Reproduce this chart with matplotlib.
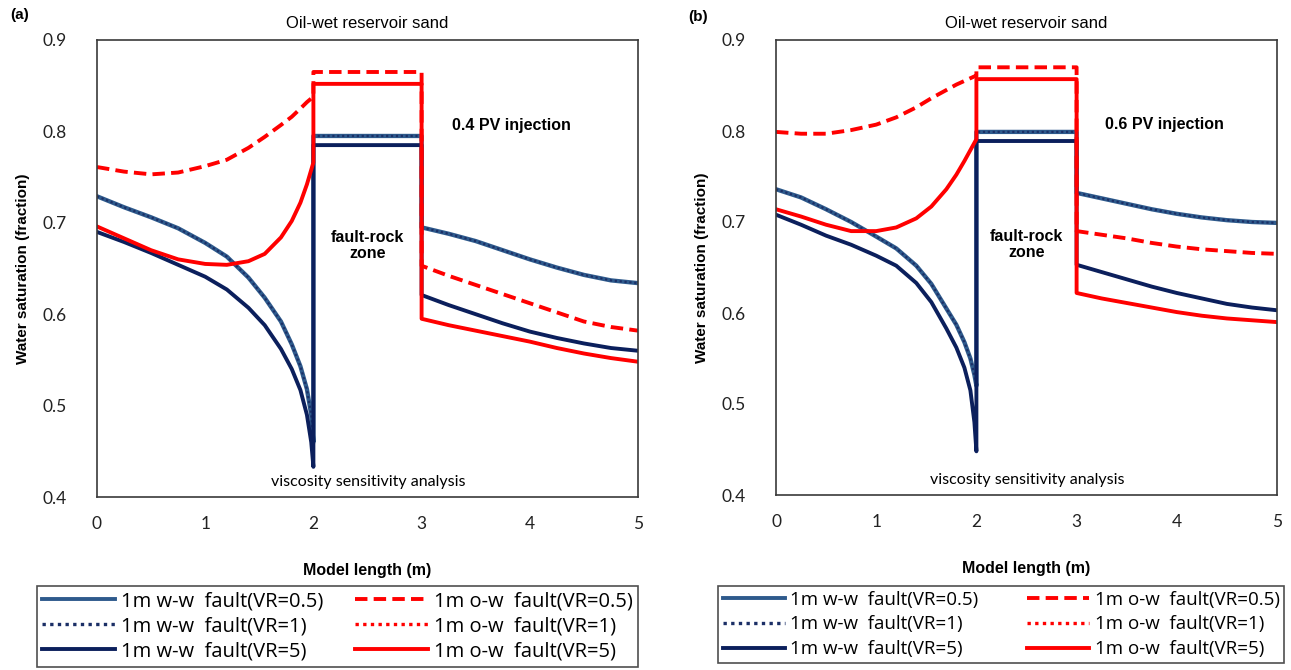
import matplotlib.pyplot as plt
import matplotlib.lines as mlines

# model length positions (m)
x_left = [0, 0.25, 0.5, 0.75, 1.0, 1.2, 1.4, 1.55, 1.7, 1.8, 1.88, 1.94, 1.98, 2.0]
x_fault = [2, 3]
x_right = [3, 3.25, 3.5, 3.75, 4, 4.25, 4.5, 4.75, 5]

# ---- panel (a) 0.4 PV injection ----
a_ww05_left = [0.729, 0.717, 0.706, 0.694, 0.678, 0.663, 0.640, 0.618, 0.592, 0.567, 0.543, 0.518, 0.490, 0.460]
a_ww5_left = [0.690, 0.679, 0.667, 0.654, 0.641, 0.627, 0.607, 0.588, 0.562, 0.540, 0.517, 0.490, 0.460, 0.433]
a_ow05_left = [0.761, 0.756, 0.753, 0.755, 0.762, 0.769, 0.782, 0.794, 0.807, 0.816, 0.825, 0.832, 0.836, 0.838]
a_ow5_left = [0.696, 0.683, 0.670, 0.660, 0.655, 0.654, 0.658, 0.666, 0.684, 0.702, 0.722, 0.742, 0.758, 0.766]
a_ww05_fault, a_ww5_fault, a_ow05_fault, a_ow5_fault = 0.795, 0.785, 0.865, 0.852
a_ww05_right = [0.695, 0.688, 0.680, 0.670, 0.660, 0.651, 0.643, 0.637, 0.634]
a_ww5_right = [0.621, 0.610, 0.600, 0.590, 0.581, 0.574, 0.568, 0.563, 0.560]
a_ow05_right = [0.653, 0.642, 0.632, 0.622, 0.612, 0.602, 0.592, 0.586, 0.582]
a_ow5_right = [0.595, 0.588, 0.582, 0.576, 0.570, 0.563, 0.557, 0.552, 0.548]

# ---- panel (b) 0.6 PV injection ----
b_ww05_left = [0.736, 0.727, 0.714, 0.700, 0.684, 0.671, 0.652, 0.632, 0.605, 0.587, 0.568, 0.550, 0.532, 0.520]
b_ww5_left = [0.708, 0.697, 0.685, 0.675, 0.663, 0.652, 0.633, 0.612, 0.583, 0.562, 0.540, 0.515, 0.480, 0.448]
b_ow05_left = [0.799, 0.797, 0.797, 0.801, 0.807, 0.815, 0.826, 0.836, 0.845, 0.851, 0.855, 0.858, 0.860, 0.860]
b_ow5_left = [0.714, 0.706, 0.697, 0.690, 0.690, 0.694, 0.704, 0.717, 0.736, 0.752, 0.767, 0.779, 0.787, 0.791]
b_ww05_fault, b_ww5_fault, b_ow05_fault, b_ow5_fault = 0.799, 0.789, 0.870, 0.857
b_ww05_right = [0.732, 0.726, 0.720, 0.714, 0.709, 0.705, 0.702, 0.700, 0.699]
b_ww5_right = [0.653, 0.645, 0.637, 0.629, 0.622, 0.616, 0.610, 0.606, 0.603]
b_ow05_right = [0.690, 0.686, 0.682, 0.677, 0.673, 0.670, 0.668, 0.666, 0.665]
b_ow5_right = [0.622, 0.616, 0.611, 0.606, 0.601, 0.597, 0.594, 0.592, 0.590]

labels = ['1m w-w  fault(VR=0.5)', '1m w-w  fault(VR=1)', '1m w-w  fault(VR=5)',
          '1m o-w  fault(VR=0.5)', '1m o-w  fault(VR=1)', '1m o-w  fault(VR=5)']

C_WW05 = '#2E5A8C'
C_WW = '#1B2F66'
C_WW5 = '#0B1F5C'
C_RED = '#FF0000'
LW = 2.8


def profile(left, fault, right):
    return x_left + x_fault + x_right, left + [fault, fault] + right


def draw(ax, ww05, ww5, ow05, ow5, pv_text):
    kw = dict(solid_joinstyle='round', dash_joinstyle='round')
    x, y = profile(*ww05)
    ax.plot(x, y, color=C_WW05, lw=LW + 0.3, **kw)
    ax.plot(x, y, color=C_WW, lw=1.6, ls=(0, (1, 1.2)))  # VR=1 sits on VR=0.5
    x, y = profile(*ww5)
    ax.plot(x, y, color=C_WW5, lw=LW, **kw)
    x, y = profile(*ow5)
    ax.plot(x, y, color=C_RED, lw=1.6, ls=':')  # VR=1 hidden under VR=5
    ax.plot(x, y, color=C_RED, lw=LW, **kw)
    x, y = profile(*ow05)
    ax.plot(x, y, color=C_RED, lw=LW, dashes=(3.2, 1.6), **kw)

    ax.set_xlim(0, 5)
    ax.set_ylim(0.4, 0.9)
    ax.set_xticks([0, 1, 2, 3, 4, 5])
    ax.set_yticks([0.4, 0.5, 0.6, 0.7, 0.8, 0.9])
    ax.set_yticklabels(['0.4', '0.5', '0.6', '0.7', '0.8', '0.9'])
    ax.tick_params(length=0, labelsize=12.5, colors='#222222')
    ax.tick_params(axis='y', pad=22)
    ax.tick_params(axis='x', pad=14)
    for lab in ax.get_xticklabels() + ax.get_yticklabels():
        lab.set_family('Lato')
    for s in ax.spines.values():
        s.set_color('#3a3a3a')
        s.set_linewidth(1.2)
    ax.set_title('Oil-wet reservoir sand', fontsize=12, family='Liberation Sans', pad=9)
    ax.set_xlabel('Model length (m)', fontsize=11.5, fontweight='bold', family='Liberation Sans', labelpad=22)
    ax.set_ylabel('Water saturation (fraction)', fontsize=11, fontweight='bold', family='Liberation Sans', labelpad=9)
    ax.text(3.28, 0.807, pv_text, fontsize=11.5, fontweight='bold', family='Liberation Sans', va='center')
    ax.text(2.5, 0.675, 'fault-rock\nzone', fontsize=11.5, fontweight='bold', family='Liberation Sans',
            ha='center', va='center', linespacing=1.05)
    ax.text(2.51, 0.416, 'viscosity sensitivity analysis', fontsize=11.5, family='Lato',
            ha='center', va='center')


fig = plt.figure(figsize=(12.91, 6.70), dpi=100)
ax1 = fig.add_axes([97 / 1291, 173 / 670, 541 / 1291, 457 / 670])
ax2 = fig.add_axes([776 / 1291, 175 / 670, 501 / 1291, 455 / 670])

draw(ax1, (a_ww05_left, a_ww05_fault, a_ww05_right), (a_ww5_left, a_ww5_fault, a_ww5_right),
     (a_ow05_left, a_ow05_fault, a_ow05_right), (a_ow5_left, a_ow5_fault, a_ow5_right), '0.4 PV injection')
draw(ax2, (b_ww05_left, b_ww05_fault, b_ww05_right), (b_ww5_left, b_ww5_fault, b_ww5_right),
     (b_ow05_left, b_ow05_fault, b_ow05_right), (b_ow5_left, b_ow5_fault, b_ow5_right), '0.6 PV injection')

fig.text(10 / 1291, 1 - 15 / 670, '(a)', fontsize=11, fontweight='bold', family='Liberation Sans', va='center')
fig.text(688 / 1291, 1 - 17 / 670, '(b)', fontsize=11, fontweight='bold', family='Liberation Sans', va='center')

# legend handles
handles = [
    mlines.Line2D([], [], color=C_WW05, lw=LW),
    mlines.Line2D([], [], color=C_WW, lw=2.4, ls=(0, (1, 1.3))),
    mlines.Line2D([], [], color=C_WW5, lw=LW),
    mlines.Line2D([], [], color=C_RED, lw=LW, dashes=(3.2, 1.6)),
    mlines.Line2D([], [], color=C_RED, lw=2.4, ls=(0, (1, 1.3))),
    mlines.Line2D([], [], color=C_RED, lw=LW),
]
for x0, ytop, fs, hl, ls, cs in [(37, 586, 14.5, 3.6, 0.26, 1.6), (718, 586, 13.5, 3.3, 0.36, 2.6)]:
    leg = fig.legend(handles, labels, ncol=2, loc='upper left',
                     bbox_to_anchor=(x0 / 1291, 1 - ytop / 670),
                     prop={'family': 'Open Sans', 'size': fs}, handlelength=hl, handletextpad=0.3,
                     labelspacing=ls, borderpad=0.25, borderaxespad=0, columnspacing=cs,
                     frameon=True, fancybox=False, edgecolor='#222222')
    leg.get_frame().set_linewidth(1.2)

fig.savefig('out.png', dpi=100)
